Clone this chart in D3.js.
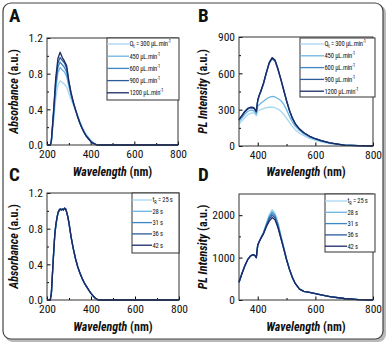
<!DOCTYPE html>
<html>
<head>
<meta charset="utf-8">
<script src="https://cdn.jsdelivr.net/npm/d3@7"></script>
<style>
  body { margin: 0; background: #fff; }
  svg text { font-family: "Liberation Sans Narrow", "Arial Narrow", "Roboto Condensed", sans-serif; fill: #111; }
</style>
</head>
<body>
<div class="vis-figure"></div>
<script>
// ---- panel A : absorbance vs flow rate ----
const wlA = [200,210,215,220,230,240,250,260,270,280,290,300,310,320,330,340,350,360,370,380,390,400,410,420,430,440,500,600,700,800];
const absQ300  = [0,0,0,0.03,0.26,0.52,0.67,0.72,0.70,0.68,0.65,0.58,0.51,0.45,0.39,0.33,0.27,0.21,0.16,0.12,0.085,0.055,0.03,0.015,0.005,0,0,0,0,0];
const absQ450  = [0,0,0,0.04,0.31,0.62,0.81,0.87,0.84,0.82,0.77,0.66,0.56,0.47,0.40,0.33,0.26,0.20,0.15,0.11,0.08,0.05,0.03,0.01,0,0,0,0,0,0];
const absQ600  = [0,0,0,0.04,0.34,0.67,0.87,0.93,0.90,0.87,0.82,0.69,0.57,0.48,0.40,0.32,0.25,0.19,0.14,0.10,0.07,0.045,0.025,0.01,0,0,0,0,0,0];
const absQ900  = [0,0,0,0.05,0.36,0.71,0.92,0.98,0.95,0.92,0.86,0.71,0.58,0.48,0.40,0.32,0.25,0.19,0.14,0.10,0.07,0.04,0.02,0.01,0,0,0,0,0,0];
const absQ1200 = [0,0,0,0.05,0.38,0.75,0.97,1.04,0.98,0.94,0.89,0.72,0.59,0.49,0.40,0.32,0.25,0.19,0.14,0.10,0.07,0.04,0.02,0.01,0,0,0,0,0,0];

// ---- panel B : PL vs flow rate ----
const wlB = [335,345,355,365,375,385,390,395,400,405,410,420,430,440,450,460,470,480,490,500,510,520,530,545,560,580,600,620,650,700,750,800];
const plQ300  = [178,205,235,258,270,275,268,250,290,295,300,308,316,320,320,316,305,288,262,230,195,162,135,105,85,62,48,35,20,6,2,0];
const plQ450  = [200,230,262,285,295,293,282,262,330,340,350,370,388,402,410,405,392,375,345,300,245,200,165,128,100,72,55,40,23,7,3,0];
const plQ600  = [215,246,280,304,315,313,300,280,372,412,442,512,600,682,720,700,632,552,464,375,296,232,183,139,109,79,59,44,25,8,3,0];
const plQ900  = [218,248,283,307,318,316,303,283,376,416,446,516,605,686,725,705,636,556,467,378,298,234,184,140,110,80,60,45,25,8,3,0];
const plQ1200 = [220,250,285,310,320,318,305,285,380,420,450,520,610,690,730,710,640,550,460,370,290,230,185,140,110,80,60,45,25,8,3,0];

// ---- panel C : absorbance vs residence time ----
const wlC = [200,210,215,220,225,230,235,240,245,250,255,260,265,270,275,280,285,290,295,300,310,320,330,340,350,360,370,380,390,400,410,420,430,440,500,600,700,800];
const absT25 = [0,0,0,0.08,0.30,0.53,0.72,0.84,0.92,0.98,1.01,1.02,1.01,1.02,1.01,1.02,1.01,0.98,0.93,0.86,0.70,0.57,0.46,0.37,0.30,0.24,0.19,0.15,0.11,0.075,0.045,0.02,0.005,0,0,0,0,0];
const absT28 = [0,0,0,0.08,0.30,0.52,0.72,0.84,0.92,0.98,1.01,1.02,1.02,1.02,1.01,1.03,1.02,0.98,0.93,0.86,0.70,0.57,0.46,0.37,0.30,0.24,0.19,0.15,0.11,0.075,0.045,0.02,0.005,0,0,0,0,0];
const absT31 = [0,0,0,0.08,0.30,0.52,0.71,0.83,0.91,0.98,1.00,1.02,1.01,1.02,1.01,1.03,1.02,0.98,0.93,0.86,0.70,0.57,0.46,0.37,0.30,0.24,0.19,0.15,0.11,0.075,0.045,0.02,0.005,0,0,0,0,0];
const absT36 = [0,0,0,0.08,0.30,0.52,0.72,0.84,0.91,0.97,1.00,1.02,1.01,1.02,1.01,1.03,1.02,0.98,0.93,0.87,0.70,0.57,0.46,0.37,0.30,0.24,0.19,0.15,0.11,0.075,0.045,0.02,0.005,0,0,0,0,0];
const absT42 = [0,0,0,0.08,0.30,0.52,0.72,0.84,0.92,0.98,1.01,1.02,1.01,1.02,1.01,1.03,1.02,0.98,0.93,0.86,0.70,0.57,0.46,0.37,0.30,0.24,0.19,0.15,0.11,0.075,0.045,0.02,0.005,0,0,0,0,0];

// ---- panel D : PL vs residence time ----
const wlD = [335,345,355,365,375,385,390,395,400,405,410,420,430,440,450,460,470,480,490,500,510,520,530,545,560,580,600,620,650,700,750,800];
const plT25 = [420,620,800,950,1040,1070,1050,1000,1300,1380,1450,1600,1810,2010,2130,2050,1830,1540,1260,970,730,530,390,255,205,178,150,120,80,35,10,0];
const plT28 = [420,620,800,950,1040,1070,1050,1000,1300,1380,1450,1590,1790,1980,2090,2010,1800,1520,1245,965,728,530,390,255,205,178,150,120,80,35,10,0];
const plT31 = [420,620,800,950,1040,1070,1050,1000,1300,1380,1450,1580,1770,1950,2050,1980,1780,1500,1235,960,726,530,390,255,205,178,150,120,80,35,10,0];
const plT36 = [420,620,800,950,1040,1070,1050,1000,1295,1375,1445,1570,1750,1910,2000,1940,1745,1480,1220,955,724,535,390,255,205,178,150,120,80,35,10,0];
const plT42 = [420,620,800,950,1040,1070,1050,1000,1290,1370,1440,1560,1730,1860,1945,1890,1710,1460,1205,950,722,540,390,255,205,178,150,120,80,35,10,0];

// legend / tick labels
const qLabels = ["300", "450", "600", "900", "1200"];
const tLabels = ["25", "28", "31", "36", "42"];
const absTicks = [0, 0.4, 0.8, 1.2];
const plTicksB = [0, 300, 600, 900];
const plTicksD = [0, 1000, 2000];
const colors = ["#a6d6f0", "#6db5e2", "#3b87c6", "#2c5b9c", "#1b2a66"];

const draw = () => {
  const svg = d3
    .select(".vis-figure")
    .append("svg")
    .attr("width", 392)
    .attr("height", 346);

  // outer rounded frame with shadow
  svg.append("rect").attr("x", 5).attr("y", 5).attr("width", 381).attr("height", 337)
    .attr("rx", 8).attr("fill", "#8a8a8a").attr("opacity", 0.6);
  svg.append("rect").attr("x", 3).attr("y", 3).attr("width", 380).attr("height", 336)
    .attr("rx", 8).attr("fill", "#fff").attr("stroke", "#444").attr("stroke-width", 1.2);

  const panel = p => {
    const g = svg.append("g");
    const x = d3.scaleLinear().domain(p.xDomain).range([p.box.x0, p.box.x1]);
    const y = d3.scaleLinear().domain(p.yDomain).range([p.box.y1, p.box.y0]);

    // minor ticks
    const xMinor = d3.range(300, 801, 200).filter(v => v > p.xDomain[0]);
    g.append("g")
      .attr("transform", "translate(0," + p.box.y1 + ")")
      .call(d3.axisBottom(x).tickValues(xMinor).tickSize(-2).tickFormat(""))
      .call(a => a.select(".domain").remove());
    g.append("g")
      .attr("transform", "translate(" + p.box.x0 + ",0)")
      .call(d3.axisLeft(y).tickValues(p.yMinor).tickSize(-2).tickFormat(""))
      .call(a => a.select(".domain").remove());

    // major ticks
    g.append("g")
      .attr("transform", "translate(0," + p.box.y1 + ")")
      .call(d3.axisBottom(x).tickValues(p.xTicks).tickSize(-3.5).tickPadding(5))
      .call(a => a.select(".domain").remove())
      .selectAll("text").attr("font-size", 11.5);
    g.append("g")
      .attr("transform", "translate(" + p.box.x0 + ",0)")
      .call(d3.axisLeft(y).tickValues(p.yTicks).tickSize(-3.5).tickPadding(4).tickFormat(p.yFmt))
      .call(a => a.select(".domain").remove())
      .selectAll("text").attr("font-size", 11.5);

    // curves, lightest first
    const line = d3.line().x((d, i) => x(p.wl[i])).y(d => y(d));
    p.series.forEach((s, i) => {
      g.append("path")
        .datum(s)
        .attr("fill", "none")
        .attr("stroke", colors[i])
        .attr("stroke-width", 1.3)
        .attr("stroke-linejoin", "round")
        .attr("d", line);
    });

    // plot frame
    g.append("rect")
      .attr("x", p.box.x0).attr("y", p.box.y0)
      .attr("width", p.box.x1 - p.box.x0).attr("height", p.box.y1 - p.box.y0)
      .attr("fill", "none").attr("stroke", "#333").attr("stroke-width", 1);

    // legend
    const L = p.legend;
    g.append("rect")
      .attr("x", L.x0).attr("y", L.y0).attr("width", L.x1 - L.x0).attr("height", L.y1 - L.y0)
      .attr("fill", "#fff").attr("stroke", "#333").attr("stroke-width", 1);
    p.labels.forEach((lab, i) => {
      const ly = L.first + i * L.step;
      g.append("line")
        .attr("x1", L.x0).attr("x2", L.x0 + L.len).attr("y1", ly).attr("y2", ly)
        .attr("stroke", colors[i]).attr("stroke-width", 1.3);
      const t = g.append("text").attr("x", L.x0 + L.len + 0.5).attr("y", ly + 2.3)
        .attr("font-size", 6.6).attr("letter-spacing", -0.15);
      if (i === 0) {
        t.append("tspan").text(p.sym);
        t.append("tspan").attr("font-size", 4.5).attr("dy", 1.5).text(p.sub);
        t.append("tspan").attr("dy", -1.5).text(" = " + lab + p.unit);
      } else {
        t.append("tspan").text(lab + p.unit);
      }
      if (p.sup) t.append("tspan").attr("font-size", 4.5).attr("dy", -3).text(p.sup);
    });

    // axis titles
    const xt = g.append("text")
      .attr("x", (p.box.x0 + p.box.x1) / 2).attr("y", p.xTitleY)
      .attr("text-anchor", "middle").attr("font-size", 12).attr("font-weight", "bold");
    xt.append("tspan").attr("font-style", "italic").text("Wavelength");
    xt.append("tspan").text(" (nm)");

    const yt = g.append("text")
      .attr("transform", "translate(" + p.yTitleX + "," + (p.box.y0 + p.box.y1) / 2 + ") rotate(-90)")
      .attr("text-anchor", "middle").attr("font-size", 12).attr("font-weight", "bold");
    yt.append("tspan").attr("font-style", "italic").text(p.yName);
    yt.append("tspan").text(" (a.u.)");

    // panel letter
    g.append("text")
      .attr("x", p.letterX).attr("y", p.letterY)
      .attr("font-size", 19).attr("font-weight", "bold")
      .text(p.letter);
  };

  const f1 = d3.format(".1f");
  const f0 = d3.format("d");

  panel({
    letter: "A", letterX: 9, letterY: 22,
    box: { x0: 47, x1: 178, y0: 38, y1: 145 },
    xDomain: [200, 800], yDomain: [0, 1.2],
    xTicks: [200, 400, 600, 800], yTicks: absTicks, yMinor: [0.2, 0.6, 1.0], yFmt: f1,
    wl: wlA, series: [absQ300, absQ450, absQ600, absQ900, absQ1200],
    legend: { x0: 107, x1: 179, y0: 38, y1: 100, first: 44, step: 12.2, len: 22 },
    labels: qLabels, sym: "Q", sub: "t", unit: " \u03bcL.min", sup: "-1",
    xTitleY: 176, yTitleX: 18, yName: "Absorbance"
  });

  panel({
    letter: "B", letterX: 198, letterY: 22,
    box: { x0: 239, x1: 373, y0: 37, y1: 146 },
    xDomain: [335, 800], yDomain: [0, 900],
    xTicks: [400, 600, 800], yTicks: plTicksB, yMinor: [150, 450, 750], yFmt: f0,
    wl: wlB, series: [plQ300, plQ450, plQ600, plQ900, plQ1200],
    legend: { x0: 300, x1: 375, y0: 38, y1: 97, first: 44, step: 11.8, len: 24 },
    labels: qLabels, sym: "Q", sub: "t", unit: " \u03bcL.min", sup: "-1",
    xTitleY: 176, yTitleX: 207, yName: "PL Intensity"
  });

  panel({
    letter: "C", letterX: 9, letterY: 181,
    box: { x0: 47, x1: 179, y0: 193, y1: 300 },
    xDomain: [200, 800], yDomain: [0, 1.2],
    xTicks: [200, 400, 600, 800], yTicks: absTicks, yMinor: [0.2, 0.6, 1.0], yFmt: f1,
    wl: wlC, series: [absT25, absT28, absT31, absT36, absT42],
    legend: { x0: 132, x1: 179, y0: 193, y1: 253, first: 200, step: 11.3, len: 20 },
    labels: tLabels, sym: "t", sub: "R", unit: " s", sup: null,
    xTitleY: 331, yTitleX: 18, yName: "Absorbance"
  });

  panel({
    letter: "D", letterX: 198, letterY: 181,
    box: { x0: 239, x1: 373, y0: 194, y1: 300 },
    xDomain: [335, 800], yDomain: [0, 2500],
    xTicks: [400, 600, 800], yTicks: plTicksD, yMinor: [500, 1500], yFmt: f0,
    wl: wlD, series: [plT25, plT28, plT31, plT36, plT42],
    legend: { x0: 325, x1: 375, y0: 194, y1: 252, first: 201, step: 11.3, len: 22 },
    labels: tLabels, sym: "t", sub: "R", unit: " s", sup: null,
    xTitleY: 331, yTitleX: 207, yName: "PL Intensity"
  });
};

draw();
</script>
</body>
</html>
